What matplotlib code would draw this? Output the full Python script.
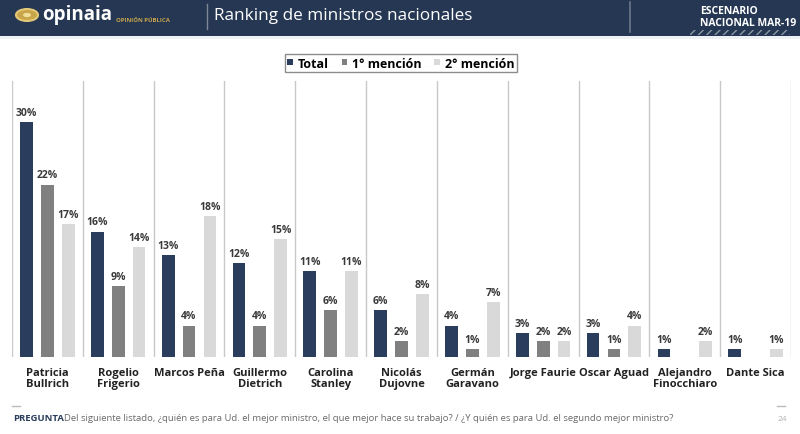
import matplotlib
matplotlib.use("Agg")
import matplotlib.pyplot as plt
from matplotlib.patches import Rectangle, Patch, Circle
import numpy as np

plt.rcParams['font.family'] = ['Open Sans', 'DejaVu Sans']

ministros = ["Patricia\nBullrich", "Rogelio\nFrigerio", "Marcos Peña", "Guillermo\nDietrich",
             "Carolina\nStanley", "Nicolás\nDujovne", "Germán\nGaravano", "Jorge Faurie",
             "Oscar Aguad", "Alejandro\nFinocchiaro", "Dante Sica"]
total = [30, 16, 13, 12, 11, 6, 4, 3, 3, 1, 1]
primera = [22, 9, 4, 4, 6, 2, 1, 2, 1, 0, 0]
segunda = [17, 14, 18, 15, 11, 8, 7, 2, 4, 2, 1]
series = ["Total", "1° mención", "2° mención"]
colores = ["#2a3d5c", "#808080", "#d9d9d9"]

W, H = 800, 435
fig = plt.figure(figsize=(W / 100, H / 100), dpi=100)
fig.patch.set_facecolor("white")

def fx(px):
    return px / W

def fy(py):
    return 1 - py / H

# header band
fig.patches.append(Rectangle((0, fy(37)), 1, 37 / H, transform=fig.transFigure,
                             facecolor="#253752", edgecolor="none", zorder=0))
fig.patches.append(Rectangle((0, fy(40)), 1, 3 / H, transform=fig.transFigure,
                             facecolor="#eef2f6", edgecolor="none", zorder=0))
fig.patches.append(Circle((fx(27), fy(16)), 11 / W, transform=fig.transFigure,
                          facecolor="#c9a54a", edgecolor="#e3c877", lw=1.5, zorder=1))
fig.patches.append(Circle((fx(27), fy(16)), 4 / W, transform=fig.transFigure,
                          facecolor="#f1de9a", edgecolor="none", zorder=2))
fig.text(fx(42), fy(15), "opinaia", color="white", fontsize=13.5, fontweight="bold",
         va="center", ha="left")
fig.text(fx(116), fy(20), "OPINIÓN PÚBLICA", color="#c9a54a", fontsize=4.3,
         fontweight="bold", va="center", ha="left")
fig.lines.append(plt.Line2D([fx(207), fx(207)], [fy(5), fy(30)], transform=fig.transFigure,
                            color="#7d8796", lw=1))
fig.text(fx(214), fy(16), "Ranking de ministros nacionales", color="white", fontsize=12.3,
         va="center", ha="left")
fig.lines.append(plt.Line2D([fx(630), fx(630)], [fy(3), fy(33)], transform=fig.transFigure,
                            color="#6d7888", lw=1.2))
fig.text(fx(700), fy(11), "ESCENARIO", color="white", fontsize=7.5, fontweight="bold",
         va="center", ha="left")
fig.text(fx(700), fy(23), "NACIONAL MAR-19", color="white", fontsize=7.5, fontweight="bold",
         va="center", ha="left")
fig.patches.append(Rectangle((fx(690), fy(36)), 100 / W, 5 / H, transform=fig.transFigure,
                             facecolor="none", edgecolor="#8e97a6", hatch="////", lw=0,
                             zorder=1))

# chart
ax = fig.add_axes([fx(12), fy(358), (791 - 12) / W, (358 - 82) / H])
x = np.arange(len(ministros))
w = 0.18
off = 0.295
for k, (vals, col) in enumerate(zip([total, primera, segunda], colores)):
    pos = x + (k - 1) * off
    ax.bar(pos, vals, width=w, color=col, zorder=2)
    for p, v in zip(pos, vals):
        if v > 0:
            ax.annotate(f"{v}%", (p, v), xytext=(0, 3), textcoords="offset points",
                        ha="center", va="bottom", fontsize=7.5, fontweight="bold",
                        color="#3a3a3a")

for s in np.arange(-0.5, len(ministros), 1.0):
    ax.axvline(s, color="#c8c8c8", lw=1, zorder=1)

ax.set_xlim(-0.5, len(ministros) - 0.5)
ax.set_ylim(0, 35.2)
ax.set_xticks(x)
ax.set_xticklabels(ministros, fontsize=8, fontweight="bold", color="#222222",
                   linespacing=1.0)
ax.tick_params(axis="x", length=0, pad=7)
ax.set_yticks([])
for sp in ax.spines.values():
    sp.set_visible(False)

handles = [Patch(facecolor=c, edgecolor="none") for c in colores]
leg = fig.legend(handles, series, loc="center", bbox_to_anchor=(fx(401), fy(64)), ncol=3,
                 frameon=True, fancybox=False, edgecolor="#707070",
                 handlelength=0.45, handleheight=0.45, handletextpad=0.4, columnspacing=1.0,
                 borderpad=0.2, prop={"weight": "bold", "size": 9})
leg.get_frame().set_linewidth(1)

# footer
fig.lines.append(plt.Line2D([fx(12), fx(20)], [fy(407), fy(407)], transform=fig.transFigure,
                            color="#bbbbbb", lw=1))
fig.lines.append(plt.Line2D([fx(777), fx(785)], [fy(407), fy(407)], transform=fig.transFigure,
                            color="#bbbbbb", lw=1))
t1 = fig.text(fx(13), fy(419), "PREGUNTA", color="#2a3d5c", fontsize=6.8,
              fontweight="bold", va="center", ha="left")
fig.canvas.draw()
bb = t1.get_window_extent()
fig.text(bb.x1 / W, fy(419),
         "Del siguiente listado, ¿quién es para Ud. el mejor ministro, el que mejor hace su trabajo? / ¿Y quién es para Ud. el segundo mejor ministro?",
         color="#6a6a6a", fontsize=6.8, va="center", ha="left")
fig.text(fx(778), fy(420), "24", color="#b0b0b0", fontsize=6, va="center", ha="left")

fig.savefig("out.png", dpi=100)
